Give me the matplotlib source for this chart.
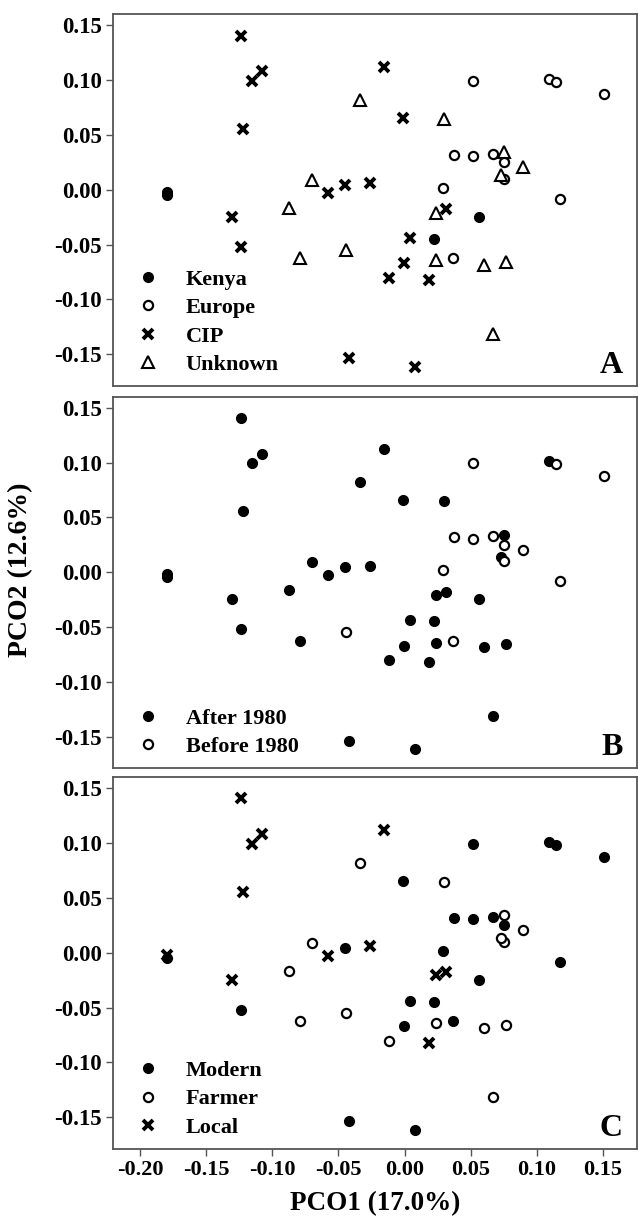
import matplotlib
matplotlib.use("Agg")
import matplotlib.pyplot as plt
from matplotlib.lines import Line2D

plt.rcParams['font.family'] = ['Liberation Serif', 'DejaVu Serif']
plt.rcParams['font.weight'] = 'bold'

# PCO scores, one entry per accession
pco1 = [-0.1800, -0.1800, 0.0566, 0.0223,
        0.0515, 0.1094, 0.1144, 0.1513, 0.0374, 0.0515, 0.0670, 0.0750,
        0.0755, 0.0295, 0.1174, 0.0367,
        -0.1237, -0.1156, -0.1080, -0.1224, -0.1308, -0.1237, -0.0152, -0.0015,
        -0.0260, -0.0583, -0.0449, 0.0316, 0.0038, -0.0002, -0.0121, 0.0187,
        -0.0424, 0.0081,
        -0.0336, 0.0298, 0.0750, 0.0727, 0.0894, -0.0697, -0.0873, -0.0790,
        -0.0444, 0.0240, 0.0235, 0.0601, 0.0768, 0.0670]
pco2 = [-0.0018, -0.0046, -0.0244, -0.0445,
        0.0996, 0.1015, 0.0984, 0.0875, 0.0320, 0.0305, 0.0326, 0.0250,
        0.0098, 0.0016, -0.0080, -0.0624,
        0.1408, 0.0996, 0.1081, 0.0555, -0.0244, -0.0521, 0.1124, 0.0658,
        0.0058, -0.0030, 0.0046, -0.0177, -0.0436, -0.0670, -0.0802, -0.0823,
        -0.1538, -0.1615,
        0.0823, 0.0646, 0.0341, 0.0137, 0.0204, 0.0091, -0.0162, -0.0624,
        -0.0548, -0.0207, -0.0643, -0.0686, -0.0655, -0.1313]

origin = ['Kenya'] * 4 + ['Europe'] * 12 + ['CIP'] * 18 + ['Unknown'] * 14
period = (['After 1980'] * 4
          + ['Before 1980', 'After 1980'] + ['Before 1980'] * 10
          + ['After 1980'] * 18
          + ['After 1980'] * 4 + ['Before 1980'] + ['After 1980'] * 3
          + ['Before 1980'] + ['After 1980'] * 5)
cultivar = (['Local', 'Modern', 'Modern', 'Modern']
            + ['Modern'] * 8 + ['Farmer'] + ['Modern'] * 3
            + ['Local'] * 5 + ['Modern', 'Local', 'Modern', 'Local', 'Local',
                               'Modern', 'Local', 'Modern', 'Modern', 'Farmer',
                               'Local', 'Modern', 'Modern']
            + ['Farmer'] * 9 + ['Local'] + ['Farmer'] * 4)

xticks = [-0.20, -0.15, -0.10, -0.05, 0.00, 0.05, 0.10, 0.15]
yticks = [-0.15, -0.10, -0.05, 0.00, 0.05, 0.10, 0.15]

styles = {
    'filled': dict(marker='o', ms=7.0, mfc='black', mec='black', mew=1.0),
    'open': dict(marker='o', ms=6.6, mfc='white', mec='black', mew=1.6),
    'cross': dict(marker='x', ms=7.0, mec='black', mew=2.8),
    'tri': dict(marker='^', ms=8.0, mfc='white', mec='black', mew=1.5),
}

panels = [
    ('A', origin, [('Kenya', 'filled'), ('Europe', 'open'),
                   ('CIP', 'cross'), ('Unknown', 'tri')]),
    ('B', period, [('After 1980', 'filled'), ('Before 1980', 'open')]),
    ('C', cultivar, [('Modern', 'filled'), ('Farmer', 'open'),
                     ('Local', 'cross')]),
]

fig = plt.figure(figsize=(6.38, 12.18), dpi=100)
bottoms = [0.6831, 0.3692, 0.0567]
spine_col = '#555555'

for (letter, groups, cats), b in zip(panels, bottoms):
    ax = fig.add_axes([0.1776, b, 0.8208, 0.305])
    handles = []
    for name, st in cats:
        xs = [x for x, g in zip(pco1, groups) if g == name]
        ys = [y for y, g in zip(pco2, groups) if g == name]
        ax.plot(xs, ys, ls='none', **styles[st])
        handles.append(Line2D([], [], ls='none', label=name, **styles[st]))
    ax.set_xlim(-0.2205, 0.176)
    ax.set_ylim(-0.179, 0.16)
    ax.set_yticks(yticks)
    ax.set_yticklabels([f'{t:.2f}' for t in yticks], fontsize=16.5)
    ax.set_xticks(xticks)
    ax.set_xticklabels([f'{t:.2f}' for t in xticks], fontsize=16)
    for s in ax.spines.values():
        s.set_color(spine_col)
        s.set_linewidth(1.3)
    ax.tick_params(axis='both', direction='out', length=5, width=1.0,
                   color=spine_col, pad=3)
    if letter != 'C':
        ax.tick_params(axis='x', bottom=False, labelbottom=False)
    else:
        ax.set_xlabel('PCO1 (17.0%)', fontsize=19.5, fontweight='bold',
                      labelpad=8)
    ax.legend(handles=handles, loc='lower left', frameon=False,
              fontsize=16, handlelength=1.0, handletextpad=1.2,
              labelspacing=0.35, borderpad=0, borderaxespad=0.0,
              bbox_to_anchor=(0.045, 0.03))
    ax.text(0.9733, 0.035, letter, transform=ax.transAxes, ha='right',
            va='baseline', fontsize=23, fontweight='bold')

fig.text(0.033, 0.532, 'PCO2 (12.6%)', rotation=90, ha='center',
         va='center', fontsize=20, fontweight='bold')

fig.savefig('out.png', dpi=100)
